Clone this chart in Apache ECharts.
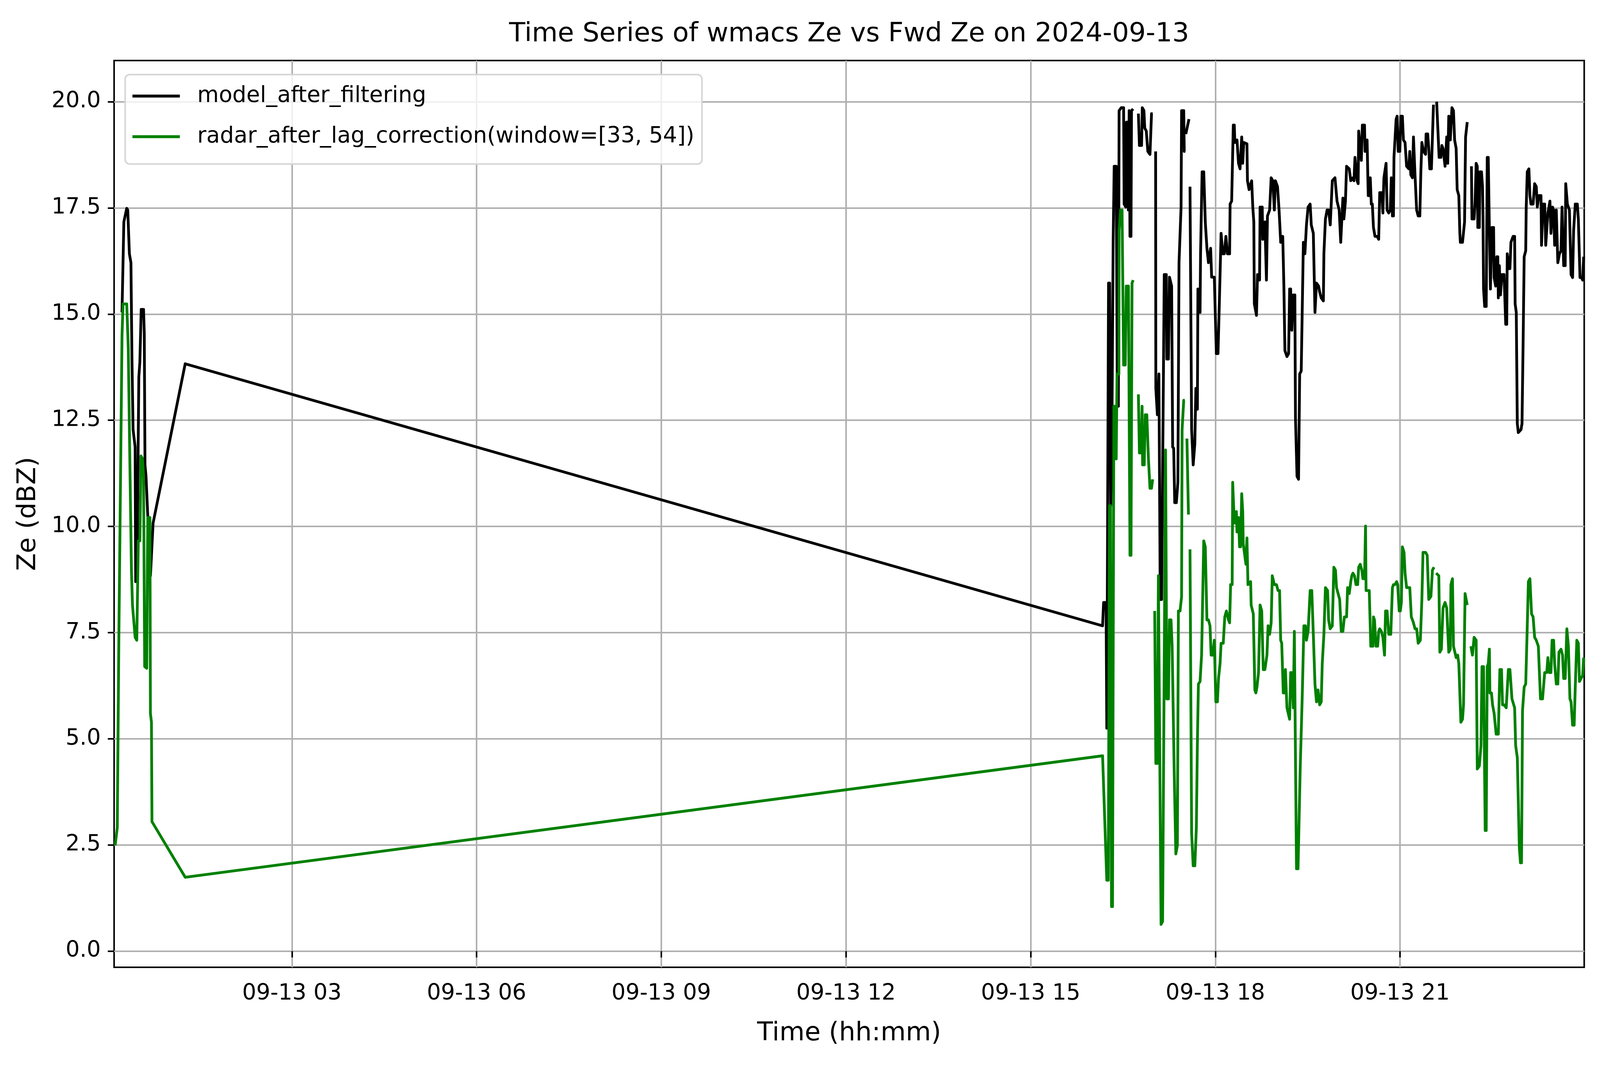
<!DOCTYPE html>
<html>
<head>
<meta charset="utf-8">
<title>wmacs Ze vs Fwd Ze</title>
<script src="https://cdn.jsdelivr.net/npm/echarts@6/dist/echarts.min.js"></script>
<style>
  html, body { margin: 0; padding: 0; background: #fff; overflow: hidden; }
  #chart { width: 100vw; height: 100vh; }
</style>
</head>
<body>
<div id="chart"></div>
<script>
// time is minutes after 2024-09-13 00:00, null value = gap in the record
var modelTime = [
  14.4, 16.2, 19.0, 20.0, 21.6, 23.1, 24.1, 25.2, 27.2, 27.7, 29.3, 30.8, 31.8, 33.1, 35.4, 36.1, 36.8, 37.8, 42.1, 44.7,
  76.0,
  970.1, 971.1, 973.5, 974.2, 975.9, 977.0, 978.0, 979.0, 980.4, 981.4, 983.4, 984.5, 985.5, 986.2, 988.3, 990.6, 991.1,
  992.7, 993.4, 994.7, 995.2, 996.0, 996.8, 997.8, 998.3, 999.9, 1002.0,
  1005.0, 1006.0, 1008.1, 1008.8, 1010.4, 1011.2, 1012.7, 1014.2, 1016.3, 1017.8, 1018.9, 1020.5,
  1021.8, 1022.0, 1023.5, 1025.0, 1026.3, 1027.6, 1030.2, 1032.2, 1032.7, 1034.3, 1035.3, 1037.4, 1038.4, 1039.4,
  1040.4, 1042.0, 1043.5, 1044.6, 1046.6, 1047.1, 1049.2, 1049.7, 1050.7, 1051.0, 1051.2, 1054.3, 1054.8,
  1055.3, 1056.9, 1058.4, 1060.0, 1061.0, 1062.5, 1063.0, 1065.1, 1065.6, 1067.1, 1068.7, 1070.2, 1071.8, 1073.3,
  1075.4, 1076.4, 1079.0, 1081.0, 1082.6, 1084.1,
  1085.6, 1087.2, 1088.7, 1090.3, 1091.8, 1093.9, 1094.4, 1095.9, 1097.5, 1098.5, 1099.0, 1101.1, 1102.6, 1104.1,
  1105.7, 1106.7, 1107.7, 1110.8, 1111.3, 1112.9, 1115.4, 1116.5, 1117.5, 1118.0, 1120.1, 1121.1, 1123.1, 1123.6,
  1125.7, 1126.2, 1128.3, 1129.8, 1130.8, 1132.9, 1134.4, 1136.0, 1137.5, 1138.5, 1140.6, 1142.1, 1143.7, 1145.7,
  1146.8, 1147.8, 1149.8, 1151.4, 1152.4, 1153.4, 1154.5, 1156.0, 1157.5, 1158.1, 1159.6, 1161.1, 1162.2, 1163.7,
  1165.8, 1167.3, 1168.8, 1170.4, 1172.4, 1173.5, 1175.5, 1177.1, 1178.6, 1180.6, 1181.7, 1183.2, 1185.3, 1185.8,
  1187.3, 1188.9, 1190.4, 1192.0, 1194.0, 1196.6, 1198.6, 1200.7, 1202.2, 1204.3, 1205.3, 1206.8, 1207.9,
  1210.5, 1212.0, 1214.1, 1215.1, 1216.1, 1218.2, 1219.2, 1219.7, 1222.3, 1223.3, 1225.4, 1225.9, 1227.9, 1229.0,
  1230.0, 1231.0, 1232.0, 1233.0, 1234.1, 1235.6, 1237.7, 1239.2, 1240.2, 1242.3, 1243.3, 1244.3, 1246.4, 1247.4,
  1249.0, 1250.5, 1251.5, 1252.6, 1253.6, 1254.1, 1256.2, 1257.2, 1258.2, 1259.8, 1260.8, 1262.3, 1263.3, 1264.9,
  1266.4, 1268.5, 1269.5, 1270.5, 1272.1, 1273.1, 1274.6, 1276.2, 1277.7, 1279.3, 1280.3, 1281.3, 1282.9, 1284.9,
  1285.4, 1287.0, 1288.0, 1289.0, 1290.6, 1292.6, 1294.2,
  1295.7, 1298.1, 1299.8, 1300.8, 1301.9, 1303.9, 1305.5, 1306.5, 1307.5, 1309.0, 1310.6, 1312.1, 1313.2, 1314.7,
  1315.7, 1317.3, 1318.3, 1318.8, 1320.9, 1322.9, 1323.9, 1325.5, 1327.5,
  1329.6, 1330.1, 1332.2, 1333.2, 1334.2, 1335.3, 1335.8, 1337.3, 1337.8, 1339.4, 1340.4, 1340.9, 1341.4, 1342.5,
  1344.0, 1345.0, 1346.0, 1347.1, 1348.1, 1349.6, 1351.2, 1351.7, 1353.2, 1354.3, 1355.3, 1355.8, 1356.8, 1357.9,
  1359.4, 1361.4, 1363.0, 1364.0, 1364.5, 1366.1, 1367.1, 1368.1, 1370.2, 1371.7, 1372.2, 1373.3, 1374.3, 1375.3,
  1377.9, 1378.9, 1379.9, 1381.0, 1382.5, 1383.0, 1384.0, 1385.6, 1386.6, 1387.6, 1389.7, 1391.2, 1392.8, 1393.8,
  1395.3, 1397.4, 1397.9, 1399.4, 1401.0, 1402.0, 1404.1, 1406.1, 1407.1, 1408.7, 1409.7, 1410.7, 1412.3, 1413.8,
  1415.4, 1416.9, 1417.9, 1419.5, 1421.0, 1421.5, 1423.1, 1425.1, 1426.7, 1428.2, 1429.2, 1430.8, 1432.8, 1433.8,
  1435.4, 1436.9, 1438.0, 1439.0
];
var modelZe = [
  15.04, 17.17, 17.49, 17.45, 16.42, 16.21, 13.94, 12.28, 11.87, 8.70, 9.73, 13.52, 13.87, 15.11, 15.11, 14.56, 11.45, 11.18, 8.84, 10.08,
  13.83,
  7.66, 8.21, 8.21, 5.25, 15.73, 15.73, 10.49, 11.45, 16.69, 18.48, 18.48, 12.83, 12.83, 19.79, 19.86, 19.86, 17.59,
  17.52, 19.52, 19.52, 17.45, 19.79, 16.83, 16.83, 19.79, 19.83, null,
  19.72, 18.97, 18.97, 19.86, 19.79, 19.38, 19.31, 18.83, 18.76, 19.72, 19.72, null,
  18.83, 13.25, 12.63, 13.59, 8.28, 8.28, 15.93, 15.93, 13.94, 13.94, 15.87, 15.66, 11.87, 11.84,
  10.56, 10.56, 11.04, 16.21, 17.52, 19.79, 19.79, 18.83, 18.83, null, 19.24, 19.59, null,
  18.00, 12.28, 11.45, 11.94, 13.25, 12.76, 15.59, 15.04, 16.42, 18.35, 18.35, 17.17, 16.55, 16.21,
  16.55, 15.87, 15.87, 14.07, 14.07, 15.45,
  16.90, 16.42, 16.42, 16.83, 16.42, 16.42, 17.59, 17.66, 19.45, 19.45, 19.04, 19.10, 18.55, 18.42,
  19.17, 18.55, 19.04, 19.01, 18.14, 17.93, 18.14, 17.52, 17.17, 15.24, 14.97, 15.93, 15.80, 17.52,
  17.52, 16.76, 17.17, 15.80, 17.31, 17.45, 18.21, 18.14, 17.45, 18.14, 18.00, 17.45, 16.69, 16.83,
  15.66, 14.14, 14.00, 14.07, 15.59, 15.59, 14.62, 15.45, 15.45, 12.56, 11.18, 11.11, 13.59, 13.66,
  16.69, 16.42, 17.10, 17.52, 17.59, 17.10, 16.90, 15.04, 15.73, 15.66, 15.52, 15.38, 15.31, 16.42,
  17.24, 17.45, 17.45, 17.10, 18.14, 18.21, 17.66, 17.45, 16.69, 17.73, 17.24, 17.66, 18.48,
  18.42, 18.14, 18.21, 18.14, 18.69, 18.14, 18.07, 19.31, 18.62, 19.45, 19.45, 18.83, 19.10, 17.79,
  17.79, 18.21, 17.59, 17.59, 17.04, 16.83, 16.83, 16.76, 17.86, 17.86, 17.38, 18.21, 18.55, 17.45,
  17.38, 17.45, 18.21, 17.31, 17.31, 18.69, 19.59, 19.66, 18.83, 18.83, 19.66, 19.66, 19.10, 19.04,
  18.48, 18.42, 18.83, 18.28, 18.21, 19.17, 18.28, 17.45, 17.31, 17.31, 18.35, 19.04, 18.83, 18.76,
  19.24, 19.24, 18.90, 18.42, 18.42, 19.93, null,
  20.00, 18.69, 18.69, 18.97, 18.90, 18.48, 19.17, 18.55, 19.66, 19.10, 19.86, 19.79, 19.10, 18.90,
  17.93, 17.79, 16.90, 16.69, 16.69, 17.17, 19.17, 19.52, null,
  18.48, 17.24, 17.24, 17.66, 18.55, 18.48, 17.04, 17.04, 18.35, 18.35, 18.00, 17.24, 15.59, 15.18,
  15.18, 18.69, 18.69, 16.97, 15.59, 17.04, 17.04, 15.86, 15.66, 16.35, 16.35, 15.38, 16.14, 15.45,
  15.93, 15.93, 14.76, 14.76, 16.42, 16.07, 16.07, 16.69, 16.83, 16.83, 15.24, 15.04, 12.42, 12.21,
  12.28, 12.42, 14.21, 16.35, 16.49, 17.52, 18.35, 18.42, 17.79, 17.59, 17.59, 18.07, 18.00, 17.52,
  17.79, 17.79, 16.62, 17.59, 17.59, 16.62, 17.38, 17.66, 16.90, 17.52, 17.45, 16.62, 17.45, 16.21,
  16.42, 16.49, 17.52, 16.14, 16.14, 18.07, 17.59, 17.45, 15.93, 15.86, 16.97, 17.59, 17.59, 17.24,
  15.86, 15.86, 15.80, 16.35
];

var radarTime = [
  7.7, 9.8, 11.3, 12.8, 14.4, 15.4, 19.0, 20.5, 22.1, 23.6, 24.6, 27.2, 28.8, 30.3, 31.8, 32.9, 34.4, 35.4, 36.5, 38.5,
  39.5, 41.6, 42.1, 43.1, 43.6,
  76.0,
  970.1, 974.2, 975.7, 976.8, 977.8, 978.8, 979.8, 981.1, 983.0, 983.4, 984.2, 986.0, 986.2, 987.6, 989.1, 990.6,
  992.2, 993.2, 995.3, 996.8, 997.8, 998.8, 999.9, 1002.0,
  1005.0, 1006.0, 1007.6, 1008.6, 1009.1, 1010.7, 1011.7, 1013.2, 1014.8, 1016.3, 1017.8, 1018.9, 1020.0,
  1020.9, 1022.0, 1023.5, 1024.5, 1027.1, 1028.6, 1031.5, 1032.7, 1034.3, 1035.3, 1036.8, 1037.9, 1039.9, 1041.5,
  1043.0, 1044.0, 1045.6, 1047.1, 1047.6, 1049.2, 1050.2, 1051.0, 1052.3, 1053.8, 1054.5,
  1055.3, 1056.9, 1058.4, 1060.0, 1061.5, 1062.5, 1063.5, 1065.1, 1066.6, 1068.7, 1070.2, 1071.8, 1073.3, 1074.8,
  1075.9, 1077.4, 1079.0, 1080.5, 1082.0, 1083.1, 1084.6,
  1085.6, 1087.7, 1089.2, 1090.8, 1092.8, 1093.9, 1094.9, 1096.4, 1096.9, 1098.5, 1100.5, 1101.1, 1102.6, 1103.6,
  1104.6, 1105.7, 1106.7, 1107.2, 1109.8, 1110.8, 1111.8, 1114.4, 1114.9, 1117.0, 1118.5, 1119.5, 1120.6, 1122.1,
  1123.6, 1125.2, 1126.7, 1128.3, 1130.3, 1131.4, 1132.9, 1134.4, 1135.5, 1137.5, 1139.6, 1141.1, 1142.6, 1143.7,
  1144.7, 1146.2, 1147.3, 1148.3, 1149.8, 1152.4, 1153.4, 1154.5, 1156.0, 1157.0, 1159.1, 1160.6, 1162.7, 1164.7,
  1166.3, 1167.8, 1168.8, 1170.4, 1172.4, 1174.0, 1175.5, 1177.1, 1178.6, 1180.1, 1181.7, 1183.2, 1184.2, 1185.8,
  1187.3, 1189.4, 1190.4, 1191.9, 1194.0, 1195.5, 1197.1, 1198.1, 1201.2, 1202.7, 1204.3, 1205.8, 1207.9,
  1208.9, 1210.5, 1212.0, 1213.0, 1214.1, 1215.6, 1217.1, 1218.7, 1219.7, 1221.2, 1222.8, 1223.8, 1225.4, 1226.4,
  1226.9, 1230.0, 1231.5, 1233.6, 1234.1, 1235.1, 1236.6, 1238.2, 1239.2, 1240.2, 1241.8, 1243.3, 1244.9, 1245.9,
  1247.4, 1249.0, 1251.0, 1252.6, 1253.6, 1255.1, 1256.7, 1257.7, 1259.2, 1260.3, 1261.3, 1262.3, 1263.9, 1264.9,
  1266.4, 1269.5, 1271.0, 1272.1, 1273.1, 1274.6, 1276.2, 1277.7, 1279.8, 1281.3, 1282.4, 1284.9, 1286.5, 1288.0,
  1290.1, 1291.6, 1293.1, 1294.2,
  1295.2, 1297.8, 1298.8, 1300.3, 1301.9, 1303.9, 1305.5, 1307.5, 1309.0, 1309.6, 1311.1, 1312.1, 1314.7, 1316.2,
  1317.3, 1319.3, 1320.9, 1321.9, 1323.4, 1325.5, 1327.5,
  1329.1, 1330.6, 1332.2, 1334.2, 1335.3, 1337.3, 1338.9, 1339.9, 1341.4, 1343.0, 1344.0, 1345.0, 1346.0, 1347.1,
  1347.6, 1349.1, 1350.2, 1351.7, 1353.7, 1355.8, 1357.3, 1358.9, 1359.9, 1361.4, 1363.5, 1365.6, 1367.1, 1369.1,
  1371.7, 1372.7, 1374.3, 1376.3, 1377.4, 1378.4, 1379.4, 1381.0, 1382.5, 1383.5, 1385.1, 1386.6, 1388.2, 1389.7,
  1391.2, 1392.8, 1394.8, 1396.9, 1398.9, 1401.0, 1403.0, 1404.1, 1405.6, 1407.1, 1408.2, 1409.7, 1410.7, 1412.3,
  1413.8, 1414.9, 1416.9, 1418.4, 1419.5, 1421.0, 1422.6, 1424.1, 1425.6, 1426.7, 1428.2, 1429.7, 1430.8, 1432.3,
  1433.8, 1434.9, 1436.4, 1438.0, 1439.0
];
var radarZe = [
  2.49, 2.91, 7.32, 10.77, 14.49, 15.24, 15.24, 14.21, 11.45, 8.97, 8.15, 7.39, 7.32, 9.66, 9.66, 11.66, 11.59, 11.18, 6.70, 6.66,
  10.21, 10.21, 5.60, 5.39, 3.05,
  1.74,
  4.60, 1.67, 1.67, 10.49, 10.49, 1.05, 1.05, 12.83, 12.83, 11.59, 13.59, 13.59, 16.97, 17.45, 17.45, 13.80,
  13.80, 15.66, 15.66, 9.32, 9.32, 15.73, 15.80, null,
  13.11, 11.73, 11.73, 12.83, 11.45, 11.45, 12.63, 12.63, 11.59, 10.90, 10.90, 11.11, null,
  8.01, 4.42, 4.42, 8.84, 0.63, 0.70, 11.80, 5.94, 5.94, 7.80, 7.80, 7.18, 4.22, 2.29,
  2.49, 8.01, 8.01, 8.35, 12.28, 12.97, 12.97, null, 12.07, 10.28, null,
  9.46, 2.77, 2.01, 2.01, 2.91, 4.91, 6.29, 6.35, 6.97, 9.66, 9.52, 7.80, 7.80, 7.66,
  6.97, 6.97, 7.32, 5.87, 5.87, 6.42, 6.77,
  7.25, 7.25, 7.87, 8.01, 7.80, 7.73, 8.63, 8.63, 11.04, 10.08, 10.35, 9.87, 10.21, 9.52,
  9.52, 10.77, 10.35, 9.59, 9.11, 9.73, 8.63, 8.70, 8.15, 7.94, 6.15, 6.08, 6.22, 6.56,
  8.15, 8.01, 6.63, 6.63, 6.97, 7.66, 7.46, 7.73, 8.84, 8.63, 8.63, 8.49, 8.49, 7.32,
  7.25, 6.08, 6.08, 6.63, 5.73, 5.46, 6.56, 6.56, 5.73, 7.53, 1.94, 1.94, 4.29, 6.01,
  7.66, 7.66, 7.32, 7.53, 8.49, 8.49, 7.46, 6.29, 5.87, 6.15, 5.80, 5.87, 6.77, 7.46,
  8.56, 8.49, 7.80, 7.59, 7.66, 9.04, 8.97, 8.56, 8.28, 7.53, 7.53, 7.87, 7.87,
  8.56, 8.42, 8.70, 8.84, 8.90, 8.84, 8.63, 8.63, 9.04, 9.11, 8.97, 8.77, 8.77, 10.01,
  8.49, 8.49, 7.18, 7.18, 7.87, 7.80, 7.18, 7.18, 7.53, 7.59, 7.53, 7.39, 6.97, 8.01,
  8.01, 7.46, 7.46, 8.56, 8.63, 8.63, 8.70, 8.63, 8.01, 8.01, 8.21, 9.52, 9.39, 8.90,
  8.56, 8.56, 7.87, 7.80, 7.73, 7.59, 7.59, 7.25, 7.32, 8.28, 9.39, 9.39, 9.32, 8.28,
  8.35, 8.97, 9.04, null,
  8.90, 8.84, 7.04, 7.11, 8.08, 8.21, 8.08, 7.04, 7.11, 8.63, 8.77, 7.18, 6.91, 6.97,
  6.77, 5.39, 5.46, 5.80, 8.42, 8.15, null,
  7.18, 6.97, 7.39, 7.32, 4.29, 4.36, 4.84, 6.70, 6.70, 2.84, 2.84, 6.70, 6.77, 7.11,
  6.08, 6.08, 5.80, 5.60, 5.11, 5.11, 6.63, 6.63, 5.80, 5.80, 5.73, 6.63, 6.63, 5.94,
  5.73, 4.84, 4.56, 2.43, 2.08, 2.08, 5.67, 6.22, 6.29, 7.18, 8.70, 8.77, 7.94, 7.87,
  7.39, 7.32, 7.18, 5.94, 5.94, 6.56, 6.56, 6.91, 6.56, 6.56, 7.32, 7.32, 6.77, 6.29,
  6.29, 7.04, 7.11, 6.97, 6.42, 6.42, 7.59, 7.18, 5.94, 5.87, 5.32, 5.32, 6.22, 7.32,
  7.25, 6.35, 6.42, 6.49, 6.91
];

var xTickMinutes = [180, 360, 540, 720, 900, 1080, 1260];
var xTickLabels = ['09-13 03', '09-13 06', '09-13 09', '09-13 12', '09-13 15', '09-13 18', '09-13 21'];
var yTicks = [0, 2.5, 5, 7.5, 10, 12.5, 15, 17.5, 20];

var TITLE = 'Time Series of wmacs Ze vs Fwd Ze on 2024-09-13';
var FONT = 'DejaVu Sans';

function pairs(t, v) {
    return t.map(function (x, i) { return [x, v[i]]; });
}

// layout was measured on a 5062x2740 figure; map it onto the real window
var W = window.innerWidth || 5062,
    H = window.innerHeight || 2740,
    sx = W / 5062,
    sy = H / 2740,
    fs = Math.min(sx, sy);
function X(v) { return v * sx; }
function Y(v) { return v * sy; }
function S(v) { return v * fs; }

var gridLeft = X(361), gridRight = X(50);
var plotCenter = gridLeft + (W - gridLeft - gridRight) / 2;

var ctx = document.createElement('canvas').getContext('2d');
ctx.font = S(84) + 'px ' + FONT;
var titleWidth = ctx.measureText(TITLE).width;

var rowH = S(80);
var chart = echarts.init(document.getElementById('chart'), null, { renderer: 'canvas' });

chart.setOption({
    animation: false,
    backgroundColor: '#ffffff',
    textStyle: { fontFamily: FONT, color: '#000' },
    title: {
        text: TITLE,
        left: plotCenter - titleWidth / 2,
        top: Y(88) - S(42),
        padding: 0,
        textStyle: { fontFamily: FONT, fontSize: S(84), fontWeight: 'normal', color: '#000', lineHeight: S(84) }
    },
    legend: {
        orient: 'vertical',
        left: X(396),
        top: Y(191),
        padding: [Y(246) - Y(191) - rowH / 2, X(24), Y(420) - Y(350) - rowH / 2, X(23)],
        itemGap: Y(104) - rowH,
        itemWidth: X(150),
        itemHeight: S(9),
        icon: 'rect',
        backgroundColor: 'rgba(255,255,255,0.8)',
        borderColor: '#d6d6d6',
        borderWidth: S(5),
        borderRadius: S(14),
        textStyle: { fontFamily: FONT, fontSize: S(70), color: '#000', lineHeight: rowH, padding: [0, 0, 0, X(49)] },
        data: ['model_after_filtering', 'radar_after_lag_correction(window=[33, 54])']
    },
    grid: {
        left: gridLeft,
        right: gridRight,
        top: Y(155),
        bottom: Y(263),
        show: true,
        borderColor: '#000',
        borderWidth: S(5),
        backgroundColor: 'transparent'
    },
    xAxis: {
        type: 'value',
        min: 6.7,
        max: 1439.5,
        name: 'Time (hh:mm)',
        nameLocation: 'middle',
        nameGap: Y(2647) - Y(2477) - S(41),
        nameTextStyle: { fontFamily: FONT, fontSize: S(82), color: '#000' },
        axisLine: { show: false },
        axisTick: {
            show: true, length: S(20), inside: false,
            customValues: xTickMinutes,
            lineStyle: { color: '#000', width: S(5) }
        },
        axisLabel: {
            customValues: xTickMinutes,
            margin: Y(40),
            fontFamily: FONT, fontSize: S(70), color: '#000',
            formatter: function (v) {
                var i = xTickMinutes.indexOf(v);
                return i >= 0 ? xTickLabels[i] : '';
            }
        },
        splitLine: { show: true, lineStyle: { color: '#b0b0b0', width: S(5) } }
    },
    yAxis: {
        type: 'value',
        min: -0.38,
        max: 20.97,
        name: 'Ze (dBZ)',
        nameLocation: 'middle',
        nameRotate: 90,
        nameGap: X(361) - X(90) - S(41),
        nameTextStyle: { fontFamily: FONT, fontSize: S(82), color: '#000' },
        axisLine: { show: false },
        axisTick: {
            show: true, length: S(20), inside: false,
            customValues: yTicks,
            lineStyle: { color: '#000', width: S(5) }
        },
        axisLabel: {
            customValues: yTicks,
            margin: S(42),
            fontFamily: FONT, fontSize: S(70), color: '#000',
            formatter: function (v) { return v.toFixed(1); }
        },
        splitLine: { show: true, lineStyle: { color: '#b0b0b0', width: S(5) } }
    },
    series: [
        {
            name: 'model_after_filtering',
            type: 'line',
            showSymbol: false,
            connectNulls: false,
            color: '#000000',
            lineStyle: { color: '#000000', width: S(8.75), join: 'round', cap: 'butt' },
            data: pairs(modelTime, modelZe)
        },
        {
            name: 'radar_after_lag_correction(window=[33, 54])',
            type: 'line',
            showSymbol: false,
            connectNulls: false,
            color: '#008000',
            lineStyle: { color: '#008000', width: S(8.75), join: 'round', cap: 'butt' },
            data: pairs(radarTime, radarZe)
        }
    ]
});

window.addEventListener('resize', function () { chart.resize(); });
</script>
</body>
</html>
